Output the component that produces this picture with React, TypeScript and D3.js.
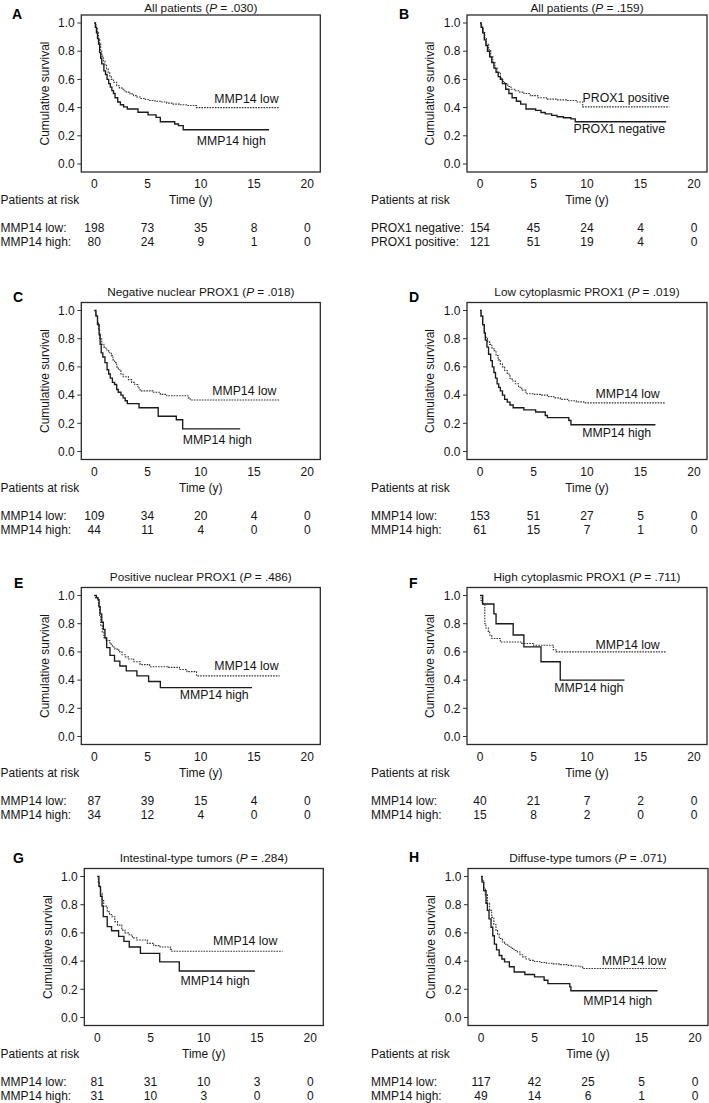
import React from 'react';
import * as d3 from 'd3';

type Pt = [number, number];

const timeTicks = [0, 5, 10, 15, 20];
const survTicks = [0, 0.2, 0.4, 0.6, 0.8, 1.0];

// ---- Panel A: All patients, MMP14 ----
const aLow: Pt[] = [[0,1],[0.15,0.97],[0.3,0.93],[0.4,0.89],[0.5,0.85],[0.6,0.8],[0.7,0.765],[0.85,0.73],[1.0,0.7],[1.15,0.675],[1.3,0.65],[1.45,0.625],[1.6,0.6],[1.8,0.58],[2.1,0.555],[2.35,0.54],[2.6,0.53],[2.8,0.52],[3.0,0.51],[3.35,0.497],[3.7,0.485],[4.0,0.475],[4.3,0.465],[4.8,0.457],[5.2,0.45],[5.7,0.445],[6.2,0.44],[6.8,0.432],[7.4,0.425],[8.0,0.42],[8.7,0.415],[9.6,0.4],[17.4,0.4]];
const aHigh: Pt[] = [[0,1],[0.1,0.97],[0.2,0.93],[0.3,0.89],[0.4,0.85],[0.5,0.79],[0.6,0.75],[0.7,0.71],[0.9,0.66],[1.05,0.635],[1.2,0.6],[1.35,0.57],[1.5,0.545],[1.65,0.52],[1.8,0.5],[1.95,0.47],[2.2,0.44],[2.45,0.42],[2.75,0.405],[3.1,0.39],[4.1,0.367],[5.05,0.348],[5.8,0.331],[6.2,0.3],[7.55,0.284],[7.9,0.272],[8.35,0.243],[16.4,0.243]];
const aRiskLow = [198, 73, 35, 8, 0];
const aRiskHigh = [80, 24, 9, 1, 0];

// ---- Panel B: All patients, PROX1 ----
const bPos: Pt[] = [[0,1],[0.15,0.97],[0.3,0.93],[0.45,0.89],[0.6,0.85],[0.8,0.81],[1.0,0.76],[1.2,0.72],[1.4,0.68],[1.6,0.65],[1.9,0.61],[2.1,0.585],[2.3,0.57],[2.6,0.55],[2.9,0.53],[3.3,0.52],[3.7,0.51],[4.1,0.5],[4.7,0.485],[5.4,0.47],[6.2,0.46],[7.2,0.455],[8.2,0.45],[9.0,0.44],[9.6,0.405],[17.7,0.405]];
const bNeg: Pt[] = [[0,1],[0.1,0.97],[0.25,0.93],[0.4,0.88],[0.55,0.84],[0.7,0.8],[0.9,0.76],[1.1,0.72],[1.3,0.68],[1.5,0.65],[1.7,0.62],[1.9,0.6],[2.1,0.57],[2.4,0.53],[2.7,0.5],[3.0,0.47],[3.4,0.445],[3.8,0.425],[4.3,0.39],[5.2,0.38],[5.7,0.365],[6.1,0.355],[6.7,0.345],[7.2,0.335],[7.8,0.328],[8.5,0.32],[8.9,0.3],[17.4,0.3]];
const bRiskNeg = [154, 45, 24, 4, 0];
const bRiskPos = [121, 51, 19, 4, 0];

// ---- Panel C: Negative nuclear PROX1 ----
const cLow: Pt[] = [[0,1],[0.15,0.97],[0.3,0.92],[0.4,0.87],[0.5,0.8],[0.7,0.76],[0.9,0.74],[1.1,0.72],[1.35,0.7],[1.6,0.68],[1.75,0.65],[1.9,0.63],[2.1,0.6],[2.25,0.58],[2.5,0.55],[2.7,0.53],[3.2,0.51],[3.5,0.49],[3.8,0.475],[4.1,0.45],[4.3,0.43],[5.5,0.42],[6.2,0.405],[6.8,0.395],[8.8,0.38],[9.0,0.365],[17.4,0.365]];
const cHigh: Pt[] = [[0,1],[0.15,0.96],[0.3,0.9],[0.45,0.83],[0.55,0.76],[0.65,0.7],[0.8,0.67],[1.0,0.63],[1.2,0.58],[1.35,0.55],[1.5,0.52],[1.7,0.49],[1.9,0.475],[2.1,0.44],[2.25,0.42],[2.5,0.4],[2.7,0.38],[2.9,0.36],[3.1,0.34],[4.2,0.31],[6.0,0.25],[7.7,0.225],[8.3,0.16],[13.7,0.16]];
const cRiskLow = [109, 34, 20, 4, 0];
const cRiskHigh = [44, 11, 4, 0, 0];

// ---- Panel D: Low cytoplasmic PROX1 ----
const dLow: Pt[] = [[0,1],[0.1,0.96],[0.25,0.9],[0.4,0.85],[0.5,0.81],[0.7,0.78],[0.9,0.76],[1.1,0.735],[1.3,0.715],[1.5,0.68],[1.7,0.65],[1.9,0.62],[2.1,0.6],[2.3,0.575],[2.55,0.55],[2.8,0.52],[3.0,0.5],[3.3,0.48],[3.6,0.456],[3.9,0.435],[4.3,0.41],[5.0,0.405],[5.7,0.4],[6.3,0.39],[6.9,0.38],[7.5,0.37],[8.2,0.36],[9.0,0.352],[9.7,0.345],[17.3,0.345]];
const dHigh: Pt[] = [[0,1],[0.1,0.96],[0.25,0.9],[0.4,0.84],[0.5,0.79],[0.65,0.74],[0.8,0.69],[1.0,0.645],[1.15,0.6],[1.3,0.56],[1.45,0.52],[1.6,0.48],[1.75,0.455],[1.9,0.43],[2.1,0.4],[2.3,0.37],[2.55,0.35],[2.8,0.33],[3.1,0.31],[4.1,0.295],[5.2,0.28],[6.1,0.255],[6.3,0.24],[8.3,0.22],[8.5,0.19],[16.4,0.19]];
const dRiskLow = [153, 51, 27, 5, 0];
const dRiskHigh = [61, 15, 7, 1, 0];

// ---- Panel E: Positive nuclear PROX1 ----
const eLow: Pt[] = [[0,1],[0.12,0.985],[0.3,0.97],[0.4,0.92],[0.5,0.85],[0.6,0.79],[0.75,0.74],[0.9,0.7],[1.1,0.68],[1.47,0.655],[1.7,0.635],[1.94,0.62],[2.3,0.6],[2.6,0.58],[2.9,0.565],[3.2,0.55],[3.7,0.53],[4.3,0.51],[5.2,0.495],[6.9,0.49],[8.0,0.475],[8.7,0.46],[9.6,0.43],[17.4,0.43]];
const eHigh: Pt[] = [[0,1],[0.2,0.985],[0.35,0.97],[0.45,0.92],[0.55,0.87],[0.7,0.81],[0.85,0.76],[1.0,0.7],[1.16,0.63],[1.47,0.575],[1.9,0.535],[2.4,0.5],[3.0,0.465],[4.0,0.43],[5.1,0.39],[6.2,0.347],[14.8,0.347]];
const eRiskLow = [87, 39, 15, 4, 0];
const eRiskHigh = [34, 12, 4, 0, 0];

// ---- Panel F: High cytoplasmic PROX1 ----
const fLow: Pt[] = [[0,1],[0.1,0.965],[0.2,0.94],[0.45,0.8],[0.55,0.77],[0.78,0.74],[0.9,0.72],[1.1,0.695],[1.9,0.67],[3.9,0.66],[5.0,0.647],[6.85,0.615],[7.1,0.6],[17.4,0.6]];
const fHigh: Pt[] = [[0,1],[0.25,0.94],[1.3,0.87],[1.5,0.8],[3.1,0.72],[4.1,0.636],[5.7,0.53],[7.5,0.4],[13.5,0.4]];
const fRiskLow = [40, 21, 7, 2, 0];
const fRiskHigh = [15, 8, 2, 0, 0];

// ---- Panel G: Intestinal-type tumors ----
const gLow: Pt[] = [[0,1],[0.1,0.96],[0.2,0.92],[0.3,0.88],[0.45,0.83],[0.6,0.79],[0.93,0.75],[1.15,0.73],[1.4,0.715],[1.65,0.68],[1.9,0.655],[2.3,0.62],[2.6,0.6],[3.0,0.585],[3.3,0.565],[3.7,0.55],[4.7,0.526],[5.3,0.51],[5.9,0.5],[6.85,0.483],[7.0,0.47],[17.4,0.47]];
const gHigh: Pt[] = [[0,1],[0.15,0.93],[0.3,0.86],[0.45,0.79],[0.56,0.715],[0.93,0.645],[1.34,0.615],[2.0,0.575],[2.5,0.54],[3.0,0.5],[4.05,0.455],[5.86,0.395],[7.7,0.33],[14.8,0.33]];
const gRiskLow = [81, 31, 10, 3, 0];
const gRiskHigh = [31, 10, 3, 0, 0];

// ---- Panel H: Diffuse-type tumors ----
const hLow: Pt[] = [[0,1],[0.1,0.97],[0.25,0.92],[0.4,0.87],[0.6,0.81],[0.8,0.76],[1.0,0.71],[1.2,0.66],[1.4,0.62],[1.55,0.59],[1.7,0.56],[2.0,0.535],[2.2,0.52],[2.5,0.505],[2.8,0.49],[3.1,0.475],[3.4,0.465],[3.65,0.445],[3.9,0.43],[4.2,0.415],[4.5,0.405],[5.0,0.397],[5.5,0.39],[6.1,0.385],[6.7,0.38],[7.3,0.375],[8.0,0.37],[8.6,0.365],[9.2,0.36],[9.5,0.347],[17.3,0.347]];
const hHigh: Pt[] = [[0,1],[0.1,0.96],[0.25,0.9],[0.47,0.81],[0.6,0.76],[0.75,0.7],[0.94,0.64],[1.1,0.58],[1.25,0.52],[1.45,0.48],[1.7,0.44],[1.95,0.415],[2.2,0.394],[2.65,0.36],[3.1,0.323],[4.1,0.305],[5.0,0.288],[5.9,0.264],[6.25,0.24],[8.3,0.217],[8.4,0.19],[16.5,0.19]];
const hRiskLow = [117, 42, 25, 5, 0];
const hRiskHigh = [49, 14, 6, 1, 0];

type Panel = {
  letter: string; col: number; row: number; dx: number;
  letterPos: [number, number];
  title: string; p: string;
  dotted: Pt[]; solid: Pt[];
  dottedLabel: string; solidLabel: string;
  dottedLabelAt: Pt; solidLabelAt: Pt;
  riskNames: [string, string]; riskRows: [number[], number[]];
  timeDx: number;
};

const panels: Panel[] = [
  { letter: 'A', col: 0, row: 0, dx: 0, letterPos: [12, 19], title: 'All patients', p: '.030', dotted: aLow, solid: aHigh, dottedLabel: 'MMP14 low', solidLabel: 'MMP14 high', dottedLabelAt: [17.3, 0.46], solidLabelAt: [16.1, 0.165], riskNames: ['MMP14 low:', 'MMP14 high:'], riskRows: [aRiskLow, aRiskHigh], timeDx: -10 },
  { letter: 'B', col: 1, row: 0, dx: 0, letterPos: [399, 19], title: 'All patients', p: '.159', dotted: bPos, solid: bNeg, dottedLabel: 'PROX1 positive', solidLabel: 'PROX1 negative', dottedLabelAt: [17.7, 0.473], solidLabelAt: [17.3, 0.248], riskNames: ['PROX1 negative:', 'PROX1 positive:'], riskRows: [bRiskNeg, bRiskPos], timeDx: 0 },
  { letter: 'C', col: 0, row: 1, dx: 0, letterPos: [13, 302], title: 'Negative nuclear PROX1', p: '.018', dotted: cLow, solid: cHigh, dottedLabel: 'MMP14 low', solidLabel: 'MMP14 high', dottedLabelAt: [17.1, 0.43], solidLabelAt: [14.8, 0.087], riskNames: ['MMP14 low:', 'MMP14 high:'], riskRows: [cRiskLow, cRiskHigh], timeDx: 0 },
  { letter: 'D', col: 1, row: 1, dx: 0, letterPos: [409, 302], title: 'Low cytoplasmic PROX1', p: '.019', dotted: dLow, solid: dHigh, dottedLabel: 'MMP14 low', solidLabel: 'MMP14 high', dottedLabelAt: [16.8, 0.41], solidLabelAt: [16.0, 0.13], riskNames: ['MMP14 low:', 'MMP14 high:'], riskRows: [dRiskLow, dRiskHigh], timeDx: 0 },
  { letter: 'E', col: 0, row: 2, dx: 0, letterPos: [14, 588], title: 'Positive nuclear PROX1', p: '.486', dotted: eLow, solid: eHigh, dottedLabel: 'MMP14 low', solidLabel: 'MMP14 high', dottedLabelAt: [17.3, 0.5], solidLabelAt: [14.5, 0.295], riskNames: ['MMP14 low:', 'MMP14 high:'], riskRows: [eRiskLow, eRiskHigh], timeDx: 0 },
  { letter: 'F', col: 1, row: 2, dx: 0, letterPos: [409, 588], title: 'High cytoplasmic PROX1', p: '.711', dotted: fLow, solid: fHigh, dottedLabel: 'MMP14 low', solidLabel: 'MMP14 high', dottedLabelAt: [16.8, 0.654], solidLabelAt: [13.4, 0.346], riskNames: ['MMP14 low:', 'MMP14 high:'], riskRows: [fRiskLow, fRiskHigh], timeDx: 0 },
  { letter: 'G', col: 0, row: 3, dx: 3, letterPos: [13, 863], title: 'Intestinal-type tumors', p: '.284', dotted: gLow, solid: gHigh, dottedLabel: 'MMP14 low', solidLabel: 'MMP14 high', dottedLabelAt: [16.9, 0.543], solidLabelAt: [14.3, 0.26], riskNames: ['MMP14 low:', 'MMP14 high:'], riskRows: [gRiskLow, gRiskHigh], timeDx: 0 },
  { letter: 'H', col: 1, row: 3, dx: 1, letterPos: [409, 862], title: 'Diffuse-type tumors', p: '.071', dotted: hLow, solid: hHigh, dottedLabel: 'MMP14 low', solidLabel: 'MMP14 high', dottedLabelAt: [17.3, 0.405], solidLabelAt: [16.0, 0.118], riskNames: ['MMP14 low:', 'MMP14 high:'], riskRows: [hRiskLow, hRiskHigh], timeDx: 0 },
];

const colLayout = [
  { x0: 94.3, x20: 307.3, yLabX: 45, riskLabX: 0.5 },
  { x0: 480, x20: 694, yLabX: 430, riskLabX: 371 },
];
const rowTop = [23, 310.5, 595.5, 876.5];
const PLOT_H = 141;

const FONT = '"Liberation Sans", Arial, Helvetica, sans-serif';
const INK = '#141414';

function PanelView({ p }: { p: Panel }) {
  const c = colLayout[p.col];
  const y1 = rowTop[p.row];
  const y0 = y1 + PLOT_H;
  const x = d3.scaleLinear().domain([0, 20]).range([c.x0 + p.dx, c.x20 + p.dx]);
  const y = d3.scaleLinear().domain([0, 1]).range([y0, y1]);
  const line = d3.line<Pt>().x(d => x(d[0])).y(d => y(d[1])).curve(d3.curveStepAfter);
  const boxL = x(0) - 13;
  const boxR = x(20) + 13;
  const boxT = y1 - 8;
  const boxB = y0 + 8;
  const fmt = d3.format('.1f');
  const midX = (x(0) + x(20)) / 2;
  const titleY = Math.max(y1 - 19, 7.5);
  return (
    <g>
      <text x={p.letterPos[0]} y={p.letterPos[1]} fontSize={14} fontWeight="bold" fill="#000">{p.letter}</text>
      <text x={(boxL + boxR) / 2} y={titleY} dy="0.35em" textAnchor="middle" fontSize={11.8}>
        {p.title} (<tspan fontStyle="italic">P</tspan> = {p.p})
      </text>
      <rect x={boxL} y={boxT} width={boxR - boxL} height={boxB - boxT} fill="none" stroke="#2a2a2a" strokeWidth={1.3} />
      {survTicks.map(v => (
        <g key={v}>
          <line x1={boxL - 4} x2={boxL} y1={y(v)} y2={y(v)} stroke="#333" strokeWidth={1} />
          <text x={boxL - 6.5} y={y(v)} dy="0.35em" textAnchor="end" fontSize={12}>{fmt(v)}</text>
        </g>
      ))}
      {timeTicks.map(t => (
        <text key={t} x={x(t)} y={y1 + 161} dy="0.35em" textAnchor="middle" fontSize={12}>{t}</text>
      ))}
      <text transform={`translate(${c.yLabX + p.dx},${(boxT + boxB) / 2}) rotate(-90)`} dy="0.35em" textAnchor="middle" fontSize={12}>Cumulative survival</text>
      <path d={line(p.dotted) || ''} fill="none" stroke="#333" strokeWidth={1.1} strokeDasharray="1.6 1.1" />
      <path d={line(p.solid) || ''} fill="none" stroke="#1a1a1a" strokeWidth={1.35} />
      <text x={x(p.dottedLabelAt[0])} y={y(p.dottedLabelAt[1])} dy="0.35em" textAnchor="end" fontSize={12.3}>{p.dottedLabel}</text>
      <text x={x(p.solidLabelAt[0])} y={y(p.solidLabelAt[1])} dy="0.35em" textAnchor="end" fontSize={12.3}>{p.solidLabel}</text>
      <text x={c.riskLabX} y={y1 + 177} dy="0.35em" fontSize={12}>Patients at risk</text>
      <text x={midX + p.timeDx} y={y1 + 177} dy="0.35em" textAnchor="middle" fontSize={12}>Time (y)</text>
      {p.riskRows.map((vals, ri) => (
        <g key={ri}>
          <text x={c.riskLabX} y={y1 + 205 + ri * 14} dy="0.35em" fontSize={12}>{p.riskNames[ri]}</text>
          {vals.map((v, i) => (
            <text key={i} x={x(timeTicks[i])} y={y1 + 205 + ri * 14} dy="0.35em" textAnchor="middle" fontSize={12}>{v}</text>
          ))}
        </g>
      ))}
    </g>
  );
}

export default function App() {
  return (
    <svg width={709} height={1103} style={{ position: 'absolute', left: 0, top: 0, background: '#fff' }} fontFamily={FONT} fill={INK}>
      <rect x={0} y={0} width={709} height={1103} fill="#fff" />
      {panels.map(p => <PanelView key={p.letter} p={p} />)}
    </svg>
  );
}
